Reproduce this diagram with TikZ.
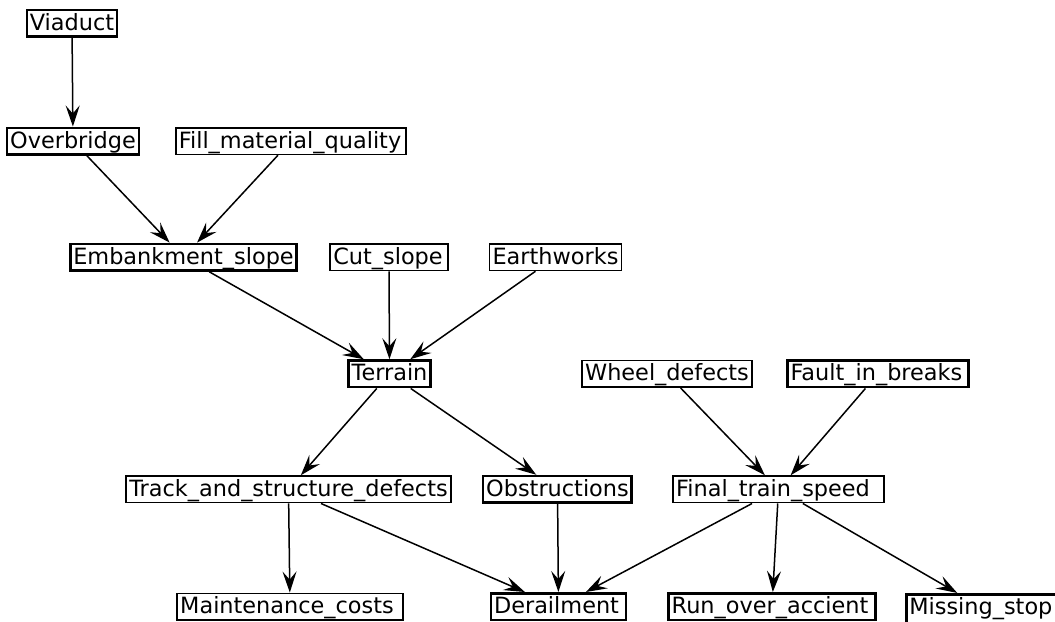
\documentclass[tikz,border=0pt]{standalone}
\usepackage{fontspec}
\setmainfont{DejaVu Sans}
\usetikzlibrary{arrows.meta}

\tikzset{
  var/.style={draw, line width=0.8pt, inner xsep=1.5pt, inner ysep=0.6pt,
    text height=9.5pt, text depth=2.6pt, font=\fontsize{11.2}{13}\selectfont},
  keyvar/.style={var, line width=1.3pt},
  dep/.style={-{Stealth[length=10.5pt,width=7pt,inset=4pt]}, line width=0.75pt},
}

\begin{document}
\begin{tikzpicture}
            \useasboundingbox (0,0) rectangle (18.54,10.93);
            % causes
            \node[keyvar] (viaduct) at (1.265,10.52) {Viaduct};
            \node[keyvar] (overbridge) at (1.283,8.45) {Overbridge};
            \node[var] (fill) at (5.114,8.45) {Fill\_material\_quality\kern1pt};
            \node[keyvar] (embankment) at (3.225,6.41) {Embankment\_slope};
            \node[var] (cutslope) at (6.836,6.41) {Cut\_slope\kern1pt};
            \node[var] (earthworks) at (9.762,6.41) {Earthworks};
            \node[keyvar] (terrain) at (6.845,4.36) {Terrain};
            \node[var] (wheel) at (11.721,4.36) {Wheel\_defects};
            \node[keyvar] (fault) at (15.429,4.36) {Fault\_in\_breaks\kern1.5pt};
            % intermediate
            \node[var] (track) at (5.070,2.33) {Track\_and\_structure\_defects};
            \node[keyvar] (obstructions) at (9.797,2.33) {Obstructions};
            \node[var] (speed) at (13.681,2.33) {Final\_train\_speed\kern5.5pt};
            % outcomes
            \node[var] (maintenance) at (5.096,0.27) {Maintenance\_costs\kern3pt};
            \node[keyvar] (derailment) at (9.815,0.27) {Derailment\kern2pt};
            \node[keyvar] (runover) at (13.567,0.27) {Run\_over\_accient\kern2pt};
            \node[keyvar, anchor=north west, text depth=4pt] (missing) at (15.904,0.51) {Missing\_stop\kern4pt};
            % edges
            \draw[dep] (viaduct) -- (overbridge);
            \draw[dep] (overbridge) -- (embankment);
            \draw[dep] (fill) -- (embankment);
            \draw[dep] (embankment) -- (terrain);
            \draw[dep] (cutslope) -- (terrain);
            \draw[dep] (earthworks) -- (terrain);
            \draw[dep] (terrain) -- (track);
            \draw[dep] (terrain) -- (obstructions);
            \draw[dep] (wheel) -- (speed);
            \draw[dep] (fault) -- (speed);
            \draw[dep] (track) -- (maintenance);
            \draw[dep] (track) -- (derailment);
            \draw[dep] (obstructions) -- (derailment);
            \draw[dep] (speed) -- (derailment);
            \draw[dep] (speed) -- (runover);
            \draw[dep] (speed) -- (missing);
        \end{tikzpicture}
\end{document}
